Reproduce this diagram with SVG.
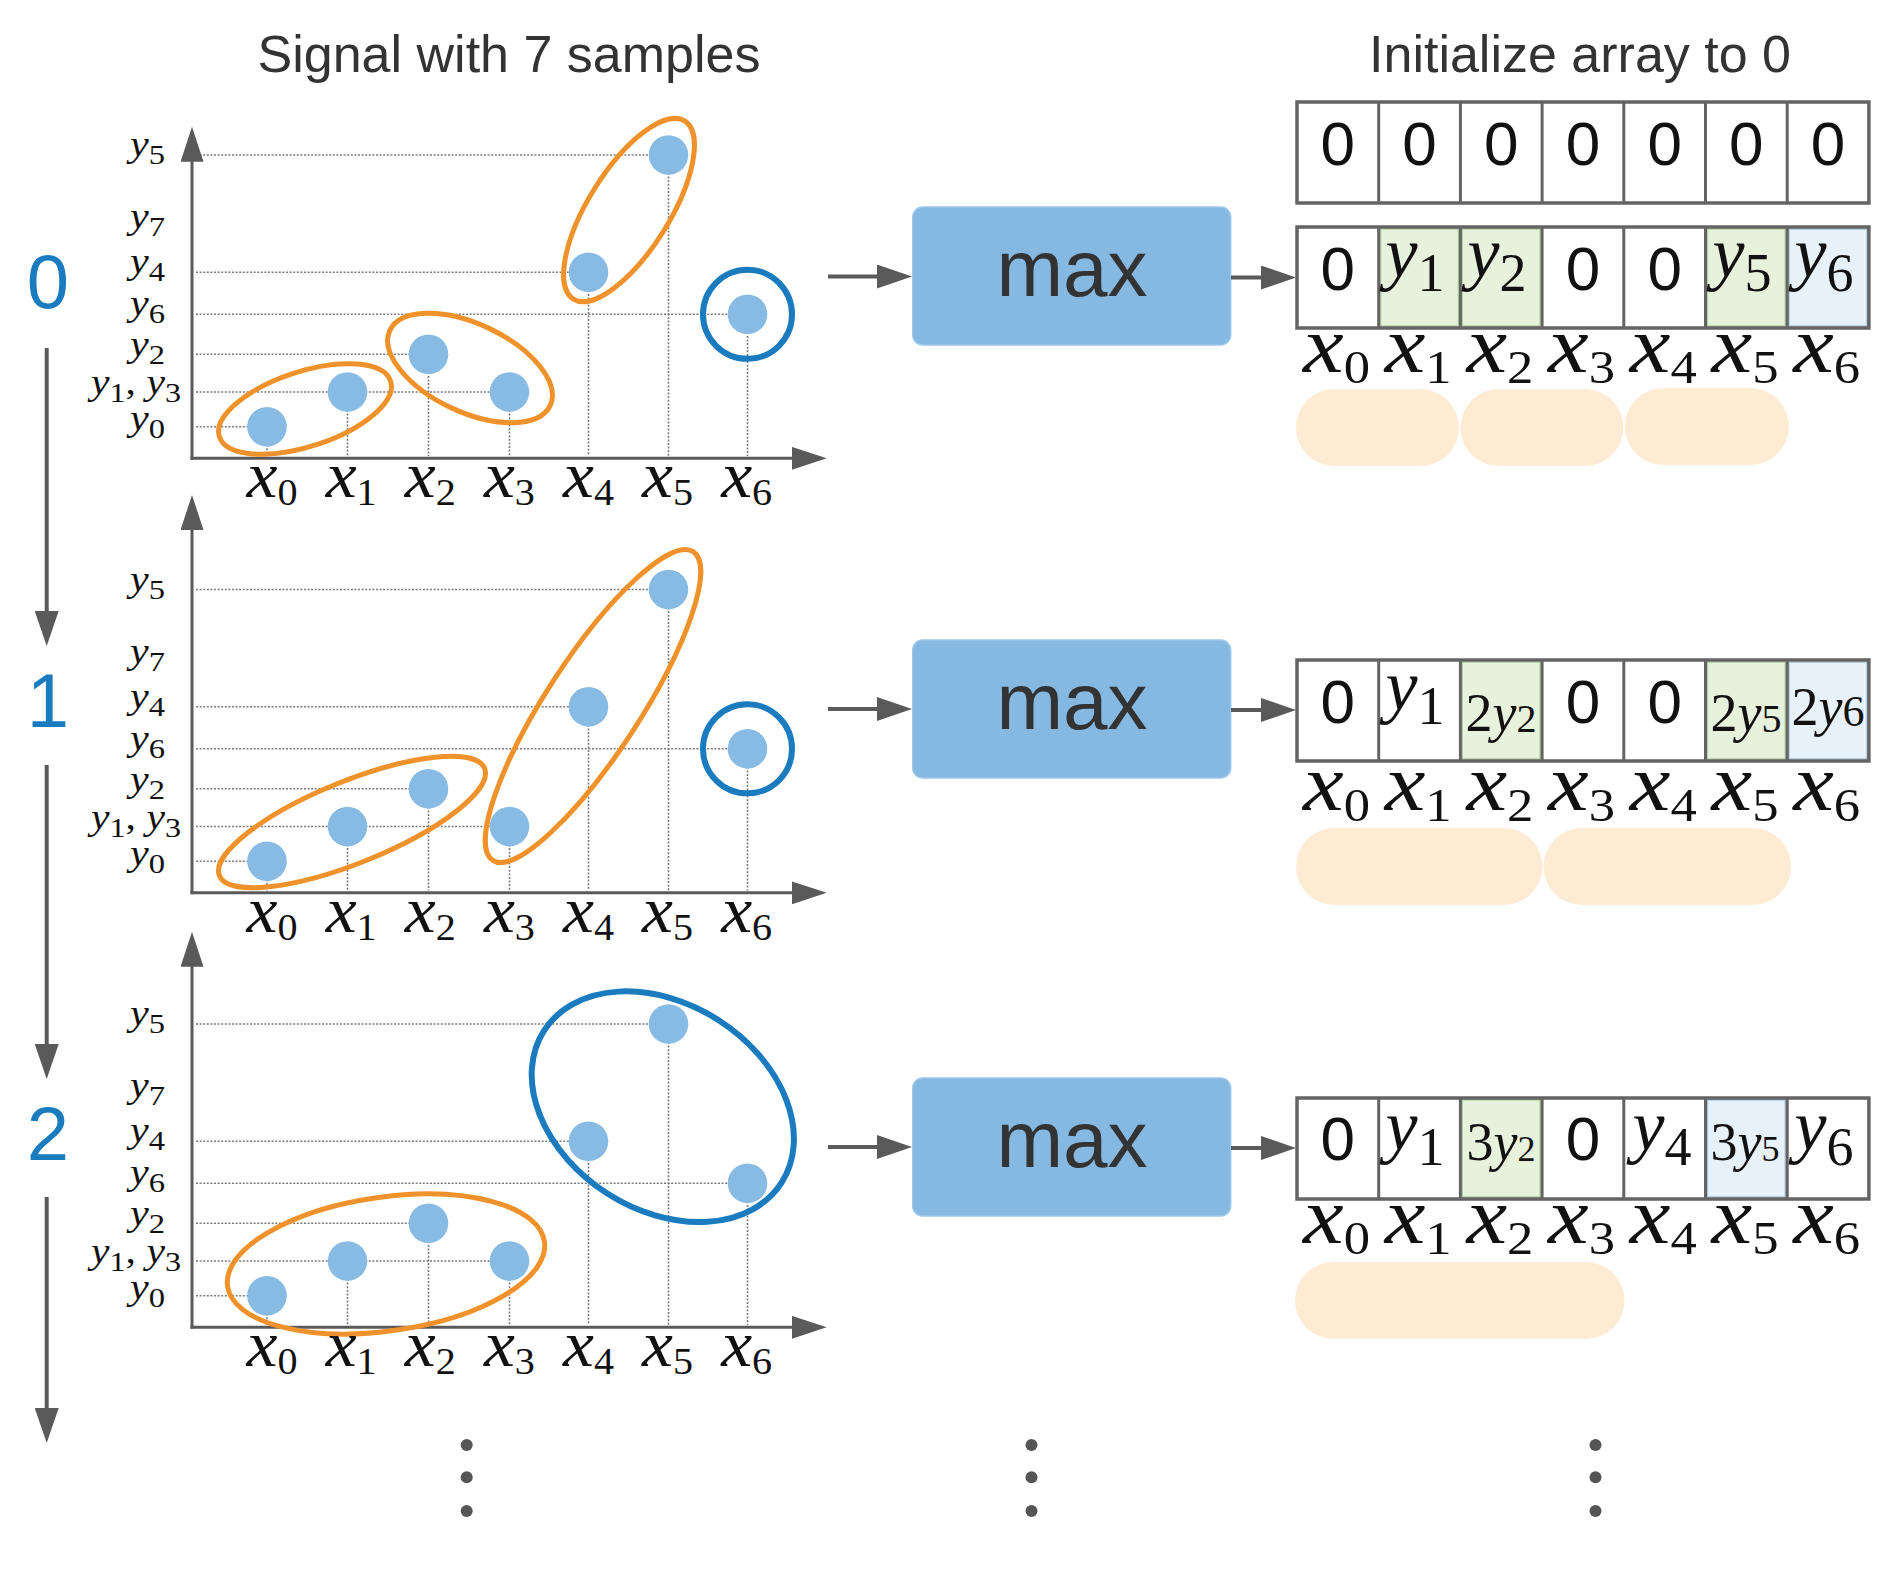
<svg xmlns="http://www.w3.org/2000/svg" width="1901" height="1573" viewBox="0 0 1901 1573">
<defs>
<style>
.ttl{font-family:"Liberation Sans",Arial,sans-serif;font-size:52px;fill:#333;text-anchor:middle}
.step{font-family:"Liberation Sans",Arial,sans-serif;font-size:76px;fill:#1a7bbf;text-anchor:middle}
.mx{font-family:"Liberation Sans",Arial,sans-serif;font-size:80px;fill:#333;text-anchor:middle}
.z{font-family:"Liberation Sans",Arial,sans-serif;font-size:62px;fill:#111;text-anchor:middle}
.m{font-family:"Liberation Serif","Times New Roman",serif;fill:#111}
.i{font-style:italic}
.yl{font-size:35px}.yl .s{font-size:27px}
.xl{font-size:66px}.xl .s{font-size:38px}
.al{font-size:80px}.al .s{font-size:46px}
.cm{font-size:72px;text-anchor:middle}.cm .s{font-size:54px}
.cc{font-size:54px;text-anchor:middle}.cc .s{font-size:40px}
.grid line{stroke:#7a7a7a;stroke-width:1.6;stroke-dasharray:2 1.6}
.pt{fill:#88bbe3}
.axis{stroke:#5a5a5a;stroke-width:3;fill:none}
.conn{stroke:#5a5a5a;stroke-width:4;fill:none}
.og{fill:none;stroke:#f0922b;stroke-width:5}
.bg{fill:none;stroke:#1a7bbf;stroke-width:6}
.box{fill:#86b9e2;stroke:#9cc7ea;stroke-width:1.5}
.frame{fill:none;stroke:#646464;stroke-width:3.5}
.div{fill:none;stroke:#646464;stroke-width:3}
.cg{fill:#e6f2dc;stroke:#b2cf9f;stroke-width:1.5}
.cb{fill:#e7f1f9;stroke:#a9c3da;stroke-width:1.5}
.cw{fill:#ffffff}
.pill{fill:#feebd4}
.dot{fill:#555}
</style>
<marker id="ah" markerUnits="userSpaceOnUse" markerWidth="36" markerHeight="24" refX="5" refY="12" orient="auto">
<path d="M0,0 L35,12 L0,24 Z" fill="#5a5a5a"/>
</marker>
<marker id="ahx" markerUnits="userSpaceOnUse" markerWidth="36" markerHeight="24" refX="5" refY="11.5" orient="auto">
<path d="M0,0 L35,11.5 L0,23 Z" fill="#5a5a5a"/>
</marker>
</defs>
<rect width="1901" height="1573" fill="#ffffff"/>

<text class="ttl" x="509" y="72">Signal with 7 samples</text>
<text class="ttl" x="1580" y="72">Initialize array to 0</text>

<g id="steps">
<text class="step" x="48" y="308">0</text>
<text class="step" x="48" y="727">1</text>
<text class="step" x="48" y="1160">2</text>
</g>

<!-- PLOT 0 -->
<g id="plot0">
<g class="grid">
<line x1="196" y1="155" x2="668.5" y2="155"/><line x1="196" y1="272.3" x2="588.5" y2="272.3"/><line x1="196" y1="314.3" x2="747.5" y2="314.3"/><line x1="196" y1="354.3" x2="428.5" y2="354.3"/><line x1="196" y1="392" x2="509.5" y2="392"/><line x1="196" y1="426.7" x2="267" y2="426.7"/>
<line x1="267" y1="426.7" x2="267" y2="456"/><line x1="347.5" y1="392" x2="347.5" y2="456"/><line x1="428.5" y1="354.3" x2="428.5" y2="456"/><line x1="509.5" y1="392" x2="509.5" y2="456"/><line x1="588.5" y1="272.3" x2="588.5" y2="456"/><line x1="668.5" y1="155" x2="668.5" y2="456"/><line x1="747.5" y1="314.3" x2="747.5" y2="456"/>
</g>
<line class="axis" x1="192" y1="459.8" x2="192" y2="156.7" marker-end="url(#ahx)"/>
<line class="axis" x1="190.5" y1="458.3" x2="796.7" y2="458.3" marker-end="url(#ahx)"/>
<circle class="pt" cx="267" cy="426.7" r="19.8"/><circle class="pt" cx="347.5" cy="392" r="19.8"/><circle class="pt" cx="428.5" cy="354.3" r="19.8"/><circle class="pt" cx="509.5" cy="392" r="19.8"/><circle class="pt" cx="588.5" cy="272.3" r="19.8"/><circle class="pt" cx="668.5" cy="155" r="19.8"/><circle class="pt" cx="747.5" cy="314.3" r="19.8"/>
<ellipse class="og" cx="305" cy="409" rx="90" ry="37.5" transform="rotate(-18 305 409)"/>
<ellipse class="og" cx="470" cy="368" rx="88.5" ry="44" transform="rotate(25 470 368)"/>
<ellipse class="og" cx="629" cy="210" rx="105" ry="40.5" transform="rotate(-58 629 210)"/>
<circle class="bg" cx="747.5" cy="314.3" r="44.5"/>
<g class="m yl">
<text x="130" y="156" textLength="35" lengthAdjust="spacingAndGlyphs"><tspan class="i">y</tspan><tspan class="s" dy="8">5</tspan></text>
<text x="130" y="228" textLength="35" lengthAdjust="spacingAndGlyphs"><tspan class="i">y</tspan><tspan class="s" dy="8">7</tspan></text>
<text x="130" y="273" textLength="35" lengthAdjust="spacingAndGlyphs"><tspan class="i">y</tspan><tspan class="s" dy="8">4</tspan></text>
<text x="130" y="315" textLength="35" lengthAdjust="spacingAndGlyphs"><tspan class="i">y</tspan><tspan class="s" dy="8">6</tspan></text>
<text x="130" y="356" textLength="35" lengthAdjust="spacingAndGlyphs"><tspan class="i">y</tspan><tspan class="s" dy="8">2</tspan></text>
<text x="91" y="394.3" textLength="90" lengthAdjust="spacingAndGlyphs"><tspan class="i">y</tspan><tspan class="s" dy="8">1</tspan><tspan dy="-8">, </tspan><tspan class="i">y</tspan><tspan class="s" dy="8">3</tspan></text>
<text x="130" y="430" textLength="35" lengthAdjust="spacingAndGlyphs"><tspan class="i">y</tspan><tspan class="s" dy="8">0</tspan></text>
</g>
<g class="m xl">
<text x="246.6" y="497" textLength="51" lengthAdjust="spacingAndGlyphs"><tspan class="i">x</tspan><tspan class="s" dy="8">0</tspan></text>
<text x="325.7" y="497" textLength="51" lengthAdjust="spacingAndGlyphs"><tspan class="i">x</tspan><tspan class="s" dy="8">1</tspan></text>
<text x="404.8" y="497" textLength="51" lengthAdjust="spacingAndGlyphs"><tspan class="i">x</tspan><tspan class="s" dy="8">2</tspan></text>
<text x="483.9" y="497" textLength="51" lengthAdjust="spacingAndGlyphs"><tspan class="i">x</tspan><tspan class="s" dy="8">3</tspan></text>
<text x="563" y="497" textLength="51" lengthAdjust="spacingAndGlyphs"><tspan class="i">x</tspan><tspan class="s" dy="8">4</tspan></text>
<text x="642.1" y="497" textLength="51" lengthAdjust="spacingAndGlyphs"><tspan class="i">x</tspan><tspan class="s" dy="8">5</tspan></text>
<text x="721.2" y="497" textLength="51" lengthAdjust="spacingAndGlyphs"><tspan class="i">x</tspan><tspan class="s" dy="8">6</tspan></text>
</g>
</g>

<!-- PLOT 1 -->
<g id="plot1" transform="translate(0,434.5)">
<g class="grid">
<line x1="196" y1="155" x2="668.5" y2="155"/><line x1="196" y1="272.3" x2="588.5" y2="272.3"/><line x1="196" y1="314.3" x2="747.5" y2="314.3"/><line x1="196" y1="354.3" x2="428.5" y2="354.3"/><line x1="196" y1="392" x2="509.5" y2="392"/><line x1="196" y1="426.7" x2="267" y2="426.7"/>
<line x1="267" y1="426.7" x2="267" y2="456"/><line x1="347.5" y1="392" x2="347.5" y2="456"/><line x1="428.5" y1="354.3" x2="428.5" y2="456"/><line x1="509.5" y1="392" x2="509.5" y2="456"/><line x1="588.5" y1="272.3" x2="588.5" y2="456"/><line x1="668.5" y1="155" x2="668.5" y2="456"/><line x1="747.5" y1="314.3" x2="747.5" y2="456"/>
</g>
<line class="axis" x1="192" y1="459.8" x2="192" y2="90.5" marker-end="url(#ahx)"/>
<line class="axis" x1="190.5" y1="458.3" x2="796.7" y2="458.3" marker-end="url(#ahx)"/>
<circle class="pt" cx="267" cy="426.7" r="19.8"/><circle class="pt" cx="347.5" cy="392" r="19.8"/><circle class="pt" cx="428.5" cy="354.3" r="19.8"/><circle class="pt" cx="509.5" cy="392" r="19.8"/><circle class="pt" cx="588.5" cy="272.3" r="19.8"/><circle class="pt" cx="668.5" cy="155" r="19.8"/><circle class="pt" cx="747.5" cy="314.3" r="19.8"/>
<ellipse class="og" cx="352" cy="387.5" rx="143" ry="41" transform="rotate(-22 352 387.5)"/>
<ellipse class="og" cx="593" cy="271.5" rx="184" ry="47" transform="rotate(-57 593 271.5)"/>
<circle class="bg" cx="747.5" cy="314.3" r="44.5"/>
<g class="m yl">
<text x="130" y="156" textLength="35" lengthAdjust="spacingAndGlyphs"><tspan class="i">y</tspan><tspan class="s" dy="8">5</tspan></text>
<text x="130" y="228" textLength="35" lengthAdjust="spacingAndGlyphs"><tspan class="i">y</tspan><tspan class="s" dy="8">7</tspan></text>
<text x="130" y="273" textLength="35" lengthAdjust="spacingAndGlyphs"><tspan class="i">y</tspan><tspan class="s" dy="8">4</tspan></text>
<text x="130" y="315" textLength="35" lengthAdjust="spacingAndGlyphs"><tspan class="i">y</tspan><tspan class="s" dy="8">6</tspan></text>
<text x="130" y="356" textLength="35" lengthAdjust="spacingAndGlyphs"><tspan class="i">y</tspan><tspan class="s" dy="8">2</tspan></text>
<text x="91" y="394.3" textLength="90" lengthAdjust="spacingAndGlyphs"><tspan class="i">y</tspan><tspan class="s" dy="8">1</tspan><tspan dy="-8">, </tspan><tspan class="i">y</tspan><tspan class="s" dy="8">3</tspan></text>
<text x="130" y="430" textLength="35" lengthAdjust="spacingAndGlyphs"><tspan class="i">y</tspan><tspan class="s" dy="8">0</tspan></text>
</g>
<g class="m xl">
<text x="246.6" y="497" textLength="51" lengthAdjust="spacingAndGlyphs"><tspan class="i">x</tspan><tspan class="s" dy="8">0</tspan></text>
<text x="325.7" y="497" textLength="51" lengthAdjust="spacingAndGlyphs"><tspan class="i">x</tspan><tspan class="s" dy="8">1</tspan></text>
<text x="404.8" y="497" textLength="51" lengthAdjust="spacingAndGlyphs"><tspan class="i">x</tspan><tspan class="s" dy="8">2</tspan></text>
<text x="483.9" y="497" textLength="51" lengthAdjust="spacingAndGlyphs"><tspan class="i">x</tspan><tspan class="s" dy="8">3</tspan></text>
<text x="563" y="497" textLength="51" lengthAdjust="spacingAndGlyphs"><tspan class="i">x</tspan><tspan class="s" dy="8">4</tspan></text>
<text x="642.1" y="497" textLength="51" lengthAdjust="spacingAndGlyphs"><tspan class="i">x</tspan><tspan class="s" dy="8">5</tspan></text>
<text x="721.2" y="497" textLength="51" lengthAdjust="spacingAndGlyphs"><tspan class="i">x</tspan><tspan class="s" dy="8">6</tspan></text>
</g>
</g>

<!-- PLOT 2 -->
<g id="plot2" transform="translate(0,869)">
<g class="grid">
<line x1="196" y1="155" x2="668.5" y2="155"/><line x1="196" y1="272.3" x2="588.5" y2="272.3"/><line x1="196" y1="314.3" x2="747.5" y2="314.3"/><line x1="196" y1="354.3" x2="428.5" y2="354.3"/><line x1="196" y1="392" x2="509.5" y2="392"/><line x1="196" y1="426.7" x2="267" y2="426.7"/>
<line x1="267" y1="426.7" x2="267" y2="456"/><line x1="347.5" y1="392" x2="347.5" y2="456"/><line x1="428.5" y1="354.3" x2="428.5" y2="456"/><line x1="509.5" y1="392" x2="509.5" y2="456"/><line x1="588.5" y1="272.3" x2="588.5" y2="456"/><line x1="668.5" y1="155" x2="668.5" y2="456"/><line x1="747.5" y1="314.3" x2="747.5" y2="456"/>
</g>
<line class="axis" x1="192" y1="459.8" x2="192" y2="92.7" marker-end="url(#ahx)"/>
<line class="axis" x1="190.5" y1="458.3" x2="796.7" y2="458.3" marker-end="url(#ahx)"/>
<circle class="pt" cx="267" cy="426.7" r="19.8"/><circle class="pt" cx="347.5" cy="392" r="19.8"/><circle class="pt" cx="428.5" cy="354.3" r="19.8"/><circle class="pt" cx="509.5" cy="392" r="19.8"/><circle class="pt" cx="588.5" cy="272.3" r="19.8"/><circle class="pt" cx="668.5" cy="155" r="19.8"/><circle class="pt" cx="747.5" cy="314.3" r="19.8"/>
<ellipse class="og" cx="386" cy="395" rx="160" ry="67" transform="rotate(-8 386 395)"/>
<ellipse class="bg" cx="662.8" cy="237.7" rx="141" ry="103" transform="rotate(32.6 662.8 237.7)"/>
<g class="m yl">
<text x="130" y="156" textLength="35" lengthAdjust="spacingAndGlyphs"><tspan class="i">y</tspan><tspan class="s" dy="8">5</tspan></text>
<text x="130" y="228" textLength="35" lengthAdjust="spacingAndGlyphs"><tspan class="i">y</tspan><tspan class="s" dy="8">7</tspan></text>
<text x="130" y="273" textLength="35" lengthAdjust="spacingAndGlyphs"><tspan class="i">y</tspan><tspan class="s" dy="8">4</tspan></text>
<text x="130" y="315" textLength="35" lengthAdjust="spacingAndGlyphs"><tspan class="i">y</tspan><tspan class="s" dy="8">6</tspan></text>
<text x="130" y="356" textLength="35" lengthAdjust="spacingAndGlyphs"><tspan class="i">y</tspan><tspan class="s" dy="8">2</tspan></text>
<text x="91" y="394.3" textLength="90" lengthAdjust="spacingAndGlyphs"><tspan class="i">y</tspan><tspan class="s" dy="8">1</tspan><tspan dy="-8">, </tspan><tspan class="i">y</tspan><tspan class="s" dy="8">3</tspan></text>
<text x="130" y="430" textLength="35" lengthAdjust="spacingAndGlyphs"><tspan class="i">y</tspan><tspan class="s" dy="8">0</tspan></text>
</g>
<g class="m xl">
<text x="246.6" y="497" textLength="51" lengthAdjust="spacingAndGlyphs"><tspan class="i">x</tspan><tspan class="s" dy="8">0</tspan></text>
<text x="325.7" y="497" textLength="51" lengthAdjust="spacingAndGlyphs"><tspan class="i">x</tspan><tspan class="s" dy="8">1</tspan></text>
<text x="404.8" y="497" textLength="51" lengthAdjust="spacingAndGlyphs"><tspan class="i">x</tspan><tspan class="s" dy="8">2</tspan></text>
<text x="483.9" y="497" textLength="51" lengthAdjust="spacingAndGlyphs"><tspan class="i">x</tspan><tspan class="s" dy="8">3</tspan></text>
<text x="563" y="497" textLength="51" lengthAdjust="spacingAndGlyphs"><tspan class="i">x</tspan><tspan class="s" dy="8">4</tspan></text>
<text x="642.1" y="497" textLength="51" lengthAdjust="spacingAndGlyphs"><tspan class="i">x</tspan><tspan class="s" dy="8">5</tspan></text>
<text x="721.2" y="497" textLength="51" lengthAdjust="spacingAndGlyphs"><tspan class="i">x</tspan><tspan class="s" dy="8">6</tspan></text>
</g>
</g>

<!-- MAX BOXES -->
<g id="max0"><rect class="box" x="912.7" y="207" width="318" height="138" rx="10"/><text class="mx" x="1072" y="296">max</text></g>
<g id="max1"><rect class="box" x="912.7" y="640" width="318" height="138" rx="10"/><text class="mx" x="1072" y="729">max</text></g>
<g id="max2"><rect class="box" x="912.7" y="1078" width="318" height="138" rx="10"/><text class="mx" x="1072" y="1167">max</text></g>

<!-- INITIAL ARRAY -->
<g id="array-init">
<rect class="cw" x="1297" y="102" width="571.9" height="101"/>
<rect class="frame" x="1297" y="102" width="571.9" height="101"/>
<path class="div" d="M1378.7,102v101M1460.4,102v101M1542.1,102v101M1623.8,102v101M1705.5,102v101M1787.2,102v101"/>
<text class="z" x="1337.85" y="165">0</text><text class="z" x="1419.55" y="165">0</text><text class="z" x="1501.25" y="165">0</text><text class="z" x="1582.95" y="165">0</text><text class="z" x="1664.65" y="165">0</text><text class="z" x="1746.35" y="165">0</text><text class="z" x="1828.05" y="165">0</text>
</g>

<!-- ARRAY ROW 0 -->
<g id="array-0">
<rect class="cw" x="1297" y="227" width="571.9" height="101"/>
<rect class="cg" x="1380.5" y="229" width="78" height="97"/>
<rect class="cg" x="1462.2" y="229" width="78" height="97"/>
<rect class="cg" x="1707.3" y="229" width="78" height="97"/>
<rect class="cb" x="1789" y="229" width="78" height="97"/>
<rect class="frame" x="1297" y="227" width="571.9" height="101"/>
<path class="div" d="M1378.7,227v101M1460.4,227v101M1542.1,227v101M1623.8,227v101M1705.5,227v101M1787.2,227v101"/>
<text class="z" x="1337.85" y="290">0</text><text class="z" x="1582.95" y="290">0</text><text class="z" x="1664.65" y="290">0</text>
<g class="m cm">
<text x="1415" y="277"><tspan class="i">y</tspan><tspan class="s" dy="14">1</tspan></text>
<text x="1497" y="277"><tspan class="i">y</tspan><tspan class="s" dy="14">2</tspan></text>
<text x="1742" y="277"><tspan class="i">y</tspan><tspan class="s" dy="14">5</tspan></text>
<text x="1824" y="277"><tspan class="i">y</tspan><tspan class="s" dy="14">6</tspan></text>
</g>
<g class="m al">
<text x="1303" y="372" textLength="67" lengthAdjust="spacingAndGlyphs"><tspan class="i">x</tspan><tspan class="s" dy="11">0</tspan></text>
<text x="1384.7" y="372" textLength="67" lengthAdjust="spacingAndGlyphs"><tspan class="i">x</tspan><tspan class="s" dy="11">1</tspan></text>
<text x="1466.4" y="372" textLength="67" lengthAdjust="spacingAndGlyphs"><tspan class="i">x</tspan><tspan class="s" dy="11">2</tspan></text>
<text x="1548.1" y="372" textLength="67" lengthAdjust="spacingAndGlyphs"><tspan class="i">x</tspan><tspan class="s" dy="11">3</tspan></text>
<text x="1629.8" y="372" textLength="67" lengthAdjust="spacingAndGlyphs"><tspan class="i">x</tspan><tspan class="s" dy="11">4</tspan></text>
<text x="1711.5" y="372" textLength="67" lengthAdjust="spacingAndGlyphs"><tspan class="i">x</tspan><tspan class="s" dy="11">5</tspan></text>
<text x="1793.2" y="372" textLength="67" lengthAdjust="spacingAndGlyphs"><tspan class="i">x</tspan><tspan class="s" dy="11">6</tspan></text>
</g>
<rect class="pill" x="1296" y="389" width="163" height="77" rx="38.5"/>
<rect class="pill" x="1460.4" y="389" width="163" height="77" rx="38.5"/>
<rect class="pill" x="1624.8" y="388" width="164" height="77" rx="38.5"/>
</g>

<!-- ARRAY ROW 1 -->
<g id="array-1">
<rect class="cw" x="1297" y="660" width="571.9" height="101"/>
<rect class="cg" x="1462.2" y="662" width="78" height="97"/>
<rect class="cg" x="1707.3" y="662" width="78" height="97"/>
<rect class="cb" x="1789" y="662" width="78" height="97"/>
<rect class="frame" x="1297" y="660" width="571.9" height="101"/>
<path class="div" d="M1378.7,660v101M1460.4,660v101M1542.1,660v101M1623.8,660v101M1705.5,660v101M1787.2,660v101"/>
<text class="z" x="1337.85" y="723">0</text><text class="z" x="1582.95" y="723">0</text><text class="z" x="1664.65" y="723">0</text>
<g class="m cm">
<text x="1415" y="710"><tspan class="i">y</tspan><tspan class="s" dy="14">1</tspan></text>
</g>
<g class="m cc">
<text x="1501" y="731">2<tspan class="i">y</tspan><tspan class="s" dy="1">2</tspan></text>
<text x="1746" y="731">2<tspan class="i">y</tspan><tspan class="s" dy="1">5</tspan></text>
<text x="1828" y="725">2<tspan class="i">y</tspan><tspan class="s" dy="1" style="font-size:44px">6</tspan></text>
</g>
<g class="m al">
<text x="1303" y="810" textLength="67" lengthAdjust="spacingAndGlyphs"><tspan class="i">x</tspan><tspan class="s" dy="11">0</tspan></text>
<text x="1384.7" y="810" textLength="67" lengthAdjust="spacingAndGlyphs"><tspan class="i">x</tspan><tspan class="s" dy="11">1</tspan></text>
<text x="1466.4" y="810" textLength="67" lengthAdjust="spacingAndGlyphs"><tspan class="i">x</tspan><tspan class="s" dy="11">2</tspan></text>
<text x="1548.1" y="810" textLength="67" lengthAdjust="spacingAndGlyphs"><tspan class="i">x</tspan><tspan class="s" dy="11">3</tspan></text>
<text x="1629.8" y="810" textLength="67" lengthAdjust="spacingAndGlyphs"><tspan class="i">x</tspan><tspan class="s" dy="11">4</tspan></text>
<text x="1711.5" y="810" textLength="67" lengthAdjust="spacingAndGlyphs"><tspan class="i">x</tspan><tspan class="s" dy="11">5</tspan></text>
<text x="1793.2" y="810" textLength="67" lengthAdjust="spacingAndGlyphs"><tspan class="i">x</tspan><tspan class="s" dy="11">6</tspan></text>
</g>
<rect class="pill" x="1296" y="828" width="246.5" height="77" rx="38.5"/>
<rect class="pill" x="1543.5" y="828" width="247.5" height="77" rx="38.5"/>
</g>

<!-- ARRAY ROW 2 -->
<g id="array-2">
<rect class="cw" x="1297" y="1098" width="571.9" height="101"/>
<rect class="cg" x="1462.2" y="1100" width="78" height="97"/>
<rect class="cb" x="1707.3" y="1100" width="78" height="97"/>
<rect class="frame" x="1297" y="1098" width="571.9" height="101"/>
<path class="div" d="M1378.7,1098v101M1460.4,1098v101M1542.1,1098v101M1623.8,1098v101M1705.5,1098v101M1787.2,1098v101"/>
<text class="z" x="1337.85" y="1160">0</text><text class="z" x="1582.95" y="1160">0</text>
<g class="m cm">
<text x="1415" y="1150"><tspan class="i">y</tspan><tspan class="s" dy="15">1</tspan></text>
<text x="1662" y="1150"><tspan class="i">y</tspan><tspan class="s" dy="15">4</tspan></text>
<text x="1824" y="1150"><tspan class="i">y</tspan><tspan class="s" dy="15">6</tspan></text>
</g>
<g class="m cc">
<text x="1501" y="1160">3<tspan class="i">y</tspan><tspan class="s" dy="1" style="font-size:36px">2</tspan></text>
<text x="1745" y="1160">3<tspan class="i">y</tspan><tspan class="s" dy="1" style="font-size:36px">5</tspan></text>
</g>
<g class="m al">
<text x="1303" y="1243" textLength="67" lengthAdjust="spacingAndGlyphs"><tspan class="i">x</tspan><tspan class="s" dy="11">0</tspan></text>
<text x="1384.7" y="1243" textLength="67" lengthAdjust="spacingAndGlyphs"><tspan class="i">x</tspan><tspan class="s" dy="11">1</tspan></text>
<text x="1466.4" y="1243" textLength="67" lengthAdjust="spacingAndGlyphs"><tspan class="i">x</tspan><tspan class="s" dy="11">2</tspan></text>
<text x="1548.1" y="1243" textLength="67" lengthAdjust="spacingAndGlyphs"><tspan class="i">x</tspan><tspan class="s" dy="11">3</tspan></text>
<text x="1629.8" y="1243" textLength="67" lengthAdjust="spacingAndGlyphs"><tspan class="i">x</tspan><tspan class="s" dy="11">4</tspan></text>
<text x="1711.5" y="1243" textLength="67" lengthAdjust="spacingAndGlyphs"><tspan class="i">x</tspan><tspan class="s" dy="11">5</tspan></text>
<text x="1793.2" y="1243" textLength="67" lengthAdjust="spacingAndGlyphs"><tspan class="i">x</tspan><tspan class="s" dy="11">6</tspan></text>
</g>
<rect class="pill" x="1295" y="1262" width="329.5" height="77" rx="38.5"/>
</g>

<!-- CONNECTORS -->
<g id="connectors">
<line class="conn" x1="46.7" y1="348" x2="46.7" y2="616" marker-end="url(#ah)"/>
<line class="conn" x1="46.7" y1="765" x2="46.7" y2="1049" marker-end="url(#ah)"/>
<line class="conn" x1="46.7" y1="1197" x2="46.7" y2="1413" marker-end="url(#ah)"/>
<line class="conn" x1="828" y1="276.5" x2="882" y2="276.5" marker-end="url(#ah)"/>
<line class="conn" x1="828" y1="709" x2="882" y2="709" marker-end="url(#ah)"/>
<line class="conn" x1="828" y1="1147" x2="882" y2="1147" marker-end="url(#ah)"/>
<line class="conn" x1="1231" y1="277.5" x2="1266" y2="277.5" marker-end="url(#ah)"/>
<line class="conn" x1="1231" y1="710" x2="1266" y2="710" marker-end="url(#ah)"/>
<line class="conn" x1="1231" y1="1148" x2="1266" y2="1148" marker-end="url(#ah)"/>
</g>

<g id="ellipsis">
<circle class="dot" cx="466.7" cy="1445" r="6"/><circle class="dot" cx="466.7" cy="1477.3" r="6"/><circle class="dot" cx="466.7" cy="1511" r="6"/>
<circle class="dot" cx="1031.5" cy="1445" r="6"/><circle class="dot" cx="1031.5" cy="1477.3" r="6"/><circle class="dot" cx="1031.5" cy="1511" r="6"/>
<circle class="dot" cx="1595.5" cy="1445" r="6"/><circle class="dot" cx="1595.5" cy="1477.3" r="6"/><circle class="dot" cx="1595.5" cy="1511" r="6"/>
</g>
</svg>
